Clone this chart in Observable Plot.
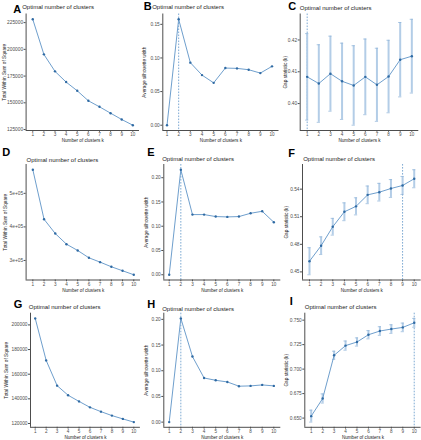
<!DOCTYPE html>
<html><head><meta charset="utf-8">
<script src="https://cdn.jsdelivr.net/npm/d3@7"></script>
<script src="https://cdn.jsdelivr.net/npm/@observablehq/plot@0.6"></script>
<style>
body{margin:0;background:#fff;}
#chart{position:relative;width:421px;height:440px;overflow:hidden;background:#fff;}
#chart svg{position:absolute;left:0;top:0;}
</style></head><body><div id="chart"></div>
<script>
// ---- data ----
const k = [1,2,3,4,5,6,7,8,9,10];
const wssA = [228100,195300,179400,169400,161250,151900,146250,140300,134400,129060];
const silB = [0,0.1575,0.093,0.0745,0.063,0.085,0.0845,0.0825,0.0775,0.0875];
const gapC = [0.4084,0.4063,0.4094,0.4070,0.4057,0.4084,0.4059,0.4085,0.4138,0.4149];
const seC  = [0.0136,0.0122,0.0118,0.0120,0.0125,0.0119,0.0115,0.0114,0.0117,0.0116];
const wssD = [570300,422800,380200,348500,329700,307900,295000,281200,269300,257400];
const silE = [0,0.2164,0.124,0.124,0.1199,0.1192,0.1199,0.1267,0.1308,0.1082];
const gapF = [0.4616,0.4785,0.4991,0.5154,0.5213,0.5338,0.5367,0.5407,0.5440,0.5513];
const seF  = [0.0147,0.0096,0.0091,0.0097,0.0093,0.0096,0.0096,0.0097,0.0098,0.0098];
const wssG = [205300,171200,150700,142900,137900,133100,129600,126400,123700,121100];
const silH = [0,0.2019,0.1276,0.0859,0.0814,0.0782,0.0699,0.0705,0.0724,0.0705];
const gapI = [0.6520,0.6700,0.7141,0.7240,0.7277,0.7351,0.7389,0.7409,0.7426,0.7473];
const seI  = [0.0061,0.0047,0.0042,0.0047,0.0042,0.0042,0.0044,0.0044,0.0044,0.0045];

// tick values and labels
const ticksA = [125000,150000,175000,200000,225000];
const labelsA = ["125000","150000","175000","200000","225000"];
const ticksSil3 = [0,0.05,0.10,0.15];
const labelsSil3 = ["0.00","0.05","0.10","0.15"];
const ticksC = [0.40,0.41,0.42];
const labelsC = ["0.40","0.41","0.42"];
const ticksD = [300000,400000,500000];
const labelsD = ["3e+05","4e+05","5e+05"];
const ticksSil4 = [0,0.05,0.10,0.15,0.20];
const labelsSil4 = ["0.00","0.05","0.10","0.15","0.20"];
const ticksF = [0.45,0.48,0.51,0.54];
const labelsF = ["0.45","0.48","0.51","0.54"];
const ticksG = [120000,140000,160000,180000,200000];
const labelsG = ["120000","140000","160000","180000","200000"];
const ticksI = [0.650,0.675,0.700,0.725,0.750];
const labelsI = ["0.650","0.675","0.700","0.725","0.750"];

const titleText = "Optimal number of clusters";
const xTitle = "Number of clusters k";
const yWss = "Total Within Sum of Square";
const ySil = "Average silhouette width";
const yGap = "Gap statistic (k)";

// ---- layout ----
const W = 421, H = 440;
const FONT = '"Liberation Sans", Arial, Helvetica, sans-serif';
const XLAB_OFFSET = 10.4;
const panels = [
  {letter:"A", values:wssA, ticks:ticksA, labels:labelsA, ylab:yWss,
   left:25.6, right:139, top:13.5, bottom:130, xDomain:[0.4,10.6], yDomain:[124108,233052],
   letterX:12.7, letterY:9.2, titleX:21.7, titleY:7, ylabX:4.0},
  {letter:"B", values:silB, ticks:ticksSil3, labels:labelsSil3, ylab:ySil, best:2,
   left:162.3, right:278.5, top:13.5, bottom:130, xDomain:[0.64,10.6], yDomain:[-0.007875,0.165375],
   letterX:143.3, letterY:5.5, titleX:151.7, titleY:6.8, ylabX:144.3},
  {letter:"C", values:gapC, se:seC, ticks:ticksC, labels:labelsC, ylab:yGap, best:1,
   left:299.7, right:418.3, top:13.5, bottom:130, xDomain:[0.4,10.6], yDomain:[0.39153,0.42817],
   letterX:287.7, letterY:5.5, titleX:299.3, titleY:7.2, ylabX:285},
  {letter:"D", values:wssD, ticks:ticksD, labels:labelsD, ylab:yWss,
   left:25.6, right:140, top:164, bottom:279.5, xDomain:[0.4,10.6], yDomain:[241755,585945],
   letterX:1.7, letterY:151.5, titleX:26, titleY:159.3, ylabX:5.3},
  {letter:"E", values:silE, ticks:ticksSil4, labels:labelsSil4, ylab:ySil, best:2,
   left:163.3, right:280.3, top:164, bottom:279.5, xDomain:[0.535,10.6], yDomain:[-0.01082,0.22722],
   letterX:146.7, letterY:152, titleX:161.7, titleY:159, ylabX:146},
  {letter:"F", values:gapF, se:seF, ticks:ticksF, labels:labelsF, ylab:yGap, best:9,
   left:302, right:420.7, top:164, bottom:279.5, xDomain:[0.4,10.6], yDomain:[0.44119,0.56681],
   letterX:287.7, letterY:153, titleX:302.7, titleY:159, ylabX:286},
  {letter:"G", values:wssG, ticks:ticksG, labels:labelsG, ylab:yWss,
   left:30, right:139.9, top:312.7, bottom:426.8, xDomain:[0.57,10.6], yDomain:[116890,209510],
   letterX:13.3, letterY:303.7, titleX:28.3, titleY:306.7, ylabX:6},
  {letter:"H", values:silH, ticks:ticksSil4, labels:labelsSil4, ylab:ySil, best:2,
   left:163.3, right:280.3, top:312.7, bottom:426.8, xDomain:[0.535,10.6], yDomain:[-0.010095,0.211995],
   letterX:146.7, letterY:303.7, titleX:161.7, titleY:308.3, ylabX:146},
  {letter:"I", values:gapI, se:seI, ticks:ticksI, labels:labelsI, ylab:yGap, best:10,
   left:304.3, right:420.6, top:312.7, bottom:426.8, xDomain:[0.44,10.6], yDomain:[0.6406,0.7571],
   letterX:289.3, letterY:301, titleX:304.3, titleY:306.7, ylabX:286}
];

const LINE = "#6f9fcd", DOT = "#2f6aa3", BAR = "#b3cde7", CAP = "#8eb3d8", DASH = "#5d94c8";
const container = document.getElementById("chart");

for (const p of panels) {
  const rows = k.map((kk, i) => ({k: kk, v: p.values[i], se: p.se ? p.se[i] : 0}));
  const labelOf = new Map(p.ticks.map((t, i) => [t, p.labels[i]]));
  const marks = [
    Plot.ruleX([p.xDomain[0]], {stroke: "#000", strokeWidth: 0.7}),
    Plot.ruleY([p.yDomain[0]], {stroke: "#000", strokeWidth: 0.7}),
    Plot.axisX({ticks: k, tickSize: 1.8, tickPadding: 0.7, fontSize: 4.6, tickFormat: d => String(d), color: "#4d4d4d", label: null}),
    Plot.axisY({ticks: p.ticks, tickSize: 2, tickPadding: 1, fontSize: 4.8, tickFormat: d => labelOf.get(d), color: "#4d4d4d", label: null})
  ];
  if (p.best != null) marks.push(Plot.ruleX([p.best], {stroke: DASH, strokeWidth: 0.8, strokeDasharray: "1.6,1.4"}));
  if (p.se) {
    marks.push(
      Plot.ruleX(rows, {x: "k", y1: d => d.v - d.se, y2: d => d.v + d.se, stroke: BAR, strokeWidth: 2}),
      Plot.ruleY(rows, {y: d => d.v + d.se, x1: d => d.k - 0.14, x2: d => d.k + 0.14, stroke: CAP, strokeWidth: 0.7}),
      Plot.ruleY(rows, {y: d => d.v - d.se, x1: d => d.k - 0.14, x2: d => d.k + 0.14, stroke: CAP, strokeWidth: 0.7})
    );
  }
  marks.push(
    Plot.line(rows, {x: "k", y: "v", stroke: LINE, strokeWidth: 1}),
    Plot.dot(rows, {x: "k", y: "v", r: 1.2, fill: DOT, stroke: null}),
    Plot.text([p.letter], {text: d => d, frameAnchor: "top-left", dx: p.letterX - p.left, dy: p.letterY - p.top,
      textAnchor: "start", lineAnchor: "middle", fontSize: 11, fontWeight: "bold", fill: "#000"}),
    Plot.text([titleText], {text: d => d, frameAnchor: "top-left", dx: p.titleX - p.left, dy: p.titleY - p.top,
      textAnchor: "start", lineAnchor: "middle", fontSize: 6, fill: "#222"}),
    Plot.text([p.ylab], {text: d => d, frameAnchor: "left", dx: p.ylabX - p.left, rotate: -90,
      textAnchor: "middle", lineAnchor: "middle", fontSize: 4.7, fill: "#222"}),
    Plot.text([xTitle], {text: d => d, frameAnchor: "bottom", dy: XLAB_OFFSET,
      textAnchor: "middle", lineAnchor: "middle", fontSize: 4.6, fill: "#222"})
  );
  const svg = Plot.plot({
    width: W, height: H,
    marginLeft: p.left, marginRight: W - p.right, marginTop: p.top, marginBottom: H - p.bottom,
    style: {background: "transparent", fontFamily: FONT, overflow: "visible"},
    x: {type: "linear", domain: p.xDomain},
    y: {type: "linear", domain: p.yDomain},
    marks
  });
  container.appendChild(svg);
}
</script></body></html>
